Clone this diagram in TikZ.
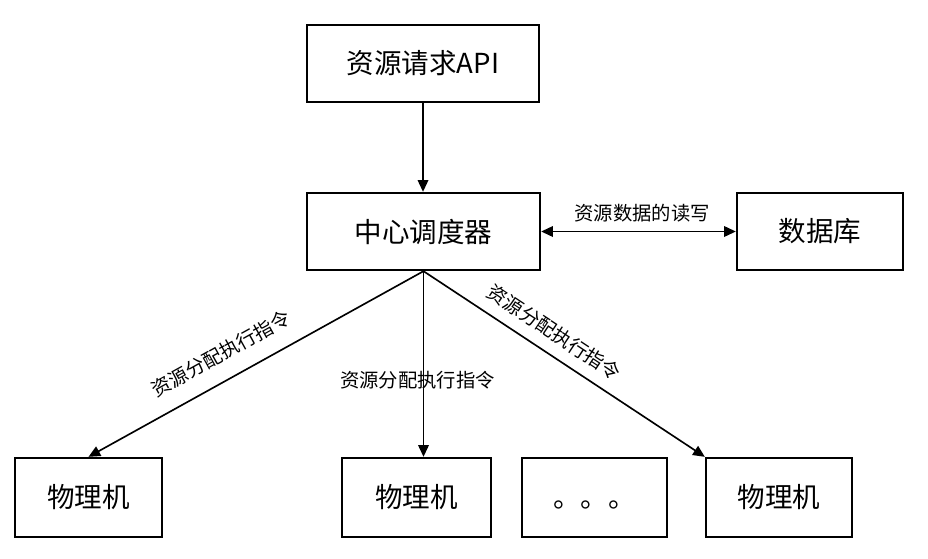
\documentclass[tikz,border=0pt]{standalone}
\usepackage{fontspec}
\setmainfont{Noto Sans CJK SC}
\usetikzlibrary{arrows.meta,positioning}

\begin{document}
\begin{tikzpicture}[x=0.03cm,y=-0.03cm,>={Triangle[length=10pt,width=9pt]},
  box/.style={draw,line width=2pt,inner sep=0pt,minimum height=2.31cm,
    font=\fontsize{23.5}{28}\selectfont},
  pmbox/.style={box,minimum width=4.41cm,minimum height=2.37cm},
  lbl/.style={inner sep=0pt,font=\fontsize{16.5}{20}\selectfont},
  link/.style={->,line width=1.4pt}]
  \useasboundingbox (0,0) rectangle (928,558);
  % top: request, scheduler, database
  \node[box,minimum width=6.96cm] (api) at (423,63.5) {资源请求API};
  \node[box,minimum width=6.99cm] (hub) at (423.5,231.5) {中心调度器};
  \node[box,minimum width=4.98cm] (db) at (820,231.5) {数据库};
  % bottom row of machines
  \node[pmbox] (pm1) at (88.5,497.5) {物理机};
  \node[pmbox,minimum width=4.47cm] (pm2) at (416.5,497.5) {物理机};
  \node[pmbox,minimum width=4.35cm] (more) at (594.5,497.5) {\vphantom{物}。。。};
  \node[pmbox,minimum width=4.38cm] (pm3) at (779,497.5) {物理机};
  % connectors
  \draw[link] (api.south) -- (api.south |- hub.north);
  \draw[link,<->] (hub.east) -- (db.west)
    node[lbl,midway,above=7pt,xshift=3pt] {资源数据的读写};
  \draw[link] (hub.south) -- (pm1.north)
    node[lbl,sloped,pos=0.567,above=14pt] {资源分配执行指令};
  \draw[link] (hub.south) -- (hub.south |- pm2.north)
    node[lbl,pos=0.585,xshift=-5pt] {资源分配执行指令};
  \draw[link] (hub.south) -- (pm3.north west)
    node[lbl,sloped,pos=0.424,above=9.5pt] {资源分配执行指令};
\end{tikzpicture}
\end{document}
